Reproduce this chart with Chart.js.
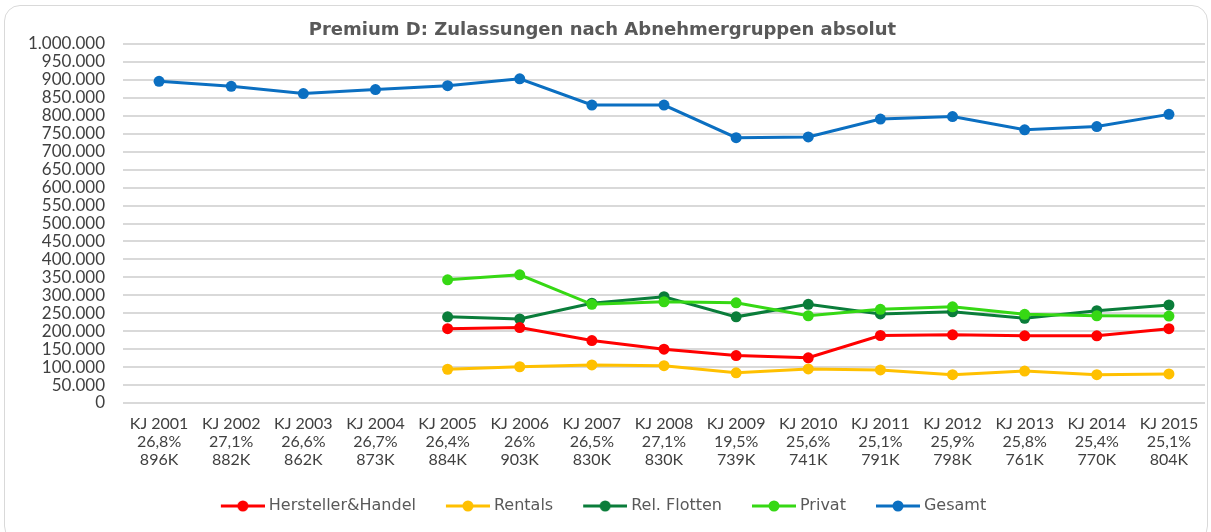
<head>
  <meta charset="utf-8" />
  <title>Premium D</title>
  <script src="https://cdn.jsdelivr.net/npm/chart.js"></script>
  <style>
    body { margin: 0; background: #fff; }
    #wrap { position: relative; width: 1211px; height: 532px; }
    #frame { position: absolute; left: 4px; top: 5px; width: 1202px; height: 535px; border: 1px solid #d9d9d9; border-radius: 16px; pointer-events: none; }
  </style>
</head>

<body>
  <div id="wrap">
    <canvas id="chart"></canvas>
    <div id="frame"></div>
  </div>
</body>

<script>
  const years = ["KJ 2001", "KJ 2002", "KJ 2003", "KJ 2004", "KJ 2005", "KJ 2006", "KJ 2007", "KJ 2008",
    "KJ 2009", "KJ 2010", "KJ 2011", "KJ 2012", "KJ 2013", "KJ 2014", "KJ 2015"];
  const shares = ["26,8%", "27,1%", "26,6%", "26,7%", "26,4%", "26%", "26,5%", "27,1%",
    "19,5%", "25,6%", "25,1%", "25,9%", "25,8%", "25,4%", "25,1%"];
  const totalLabels = ["896K", "882K", "862K", "873K", "884K", "903K", "830K", "830K",
    "739K", "741K", "791K", "798K", "761K", "770K", "804K"];

  const hersteller = [null, null, null, null, 207000, 210000, 174000, 150000, 132000, 126000, 188000, 190000, 187000, 187000, 207000];
  const rentals = [null, null, null, null, 94000, 101000, 106000, 104000, 84000, 95000, 92000, 79000, 89000, 79000, 81000];
  const flotten = [null, null, null, null, 240000, 234000, 278000, 296000, 240000, 275000, 248000, 254000, 236000, 257000, 273000];
  const privat = [null, null, null, null, 343000, 357000, 275000, 282000, 279000, 243000, 261000, 268000, 247000, 243000, 242000];
  const gesamt = [896000, 882000, 862000, 873000, 884000, 903000, 830000, 830000, 739000, 741000, 791000, 798000, 761000, 770000, 804000];

  const fontFamily = "Lato, 'Open Sans', sans-serif";
  const textColor = "#404040";

  // legend marker: short line with a dot, small blank margin on the left
  function legendIcon(color) {
    const c = document.createElement("canvas");
    c.width = 50;
    c.height = 14;
    const ctx = c.getContext("2d");
    ctx.strokeStyle = color;
    ctx.lineWidth = 3;
    ctx.beginPath();
    ctx.moveTo(6, 7);
    ctx.lineTo(50, 7);
    ctx.stroke();
    ctx.fillStyle = color;
    ctx.beginPath();
    ctx.arc(28, 7, 5.5, 0, Math.PI * 2);
    ctx.fill();
    return c;
  }

  function series(label, data, color, order) {
    return {
      label: label,
      data: data,
      borderColor: color,
      backgroundColor: color,
      borderWidth: 3,
      pointRadius: 5.5,
      pointHoverRadius: 5.5,
      pointBorderWidth: 0,
      spanGaps: false,
      order: order,
      icon: legendIcon(color),
    };
  }

  const dotted = (v) => String(v).replace(/\B(?=(\d{3})+(?!\d))/g, ".");

  new Chart(document.getElementById("chart"), {
    type: "line",
    data: {
      labels: years.map((y, i) => [y, shares[i], totalLabels[i]]),
      datasets: [
        series("Hersteller&Handel", hersteller, "#ff0000", 1),
        series("Rentals", rentals, "#ffc000", 1),
        series("Rel. Flotten", flotten, "#0a7d3a", 1),
        series("Privat", privat, "#36d814", 0),
        series("Gesamt", gesamt, "#0b6fc1", 0),
      ],
    },
    options: {
      responsive: true,
      maintainAspectRatio: false,
      animation: false,
      layout: { padding: { left: 0, right: 6, top: 0, bottom: 8 } },
      plugins: {
        title: {
          display: true,
          text: "Premium D: Zulassungen nach Abnehmergruppen absolut",
          color: "#595959",
          font: { family: "'DejaVu Sans', sans-serif", size: 18, weight: "bold" },
          padding: { top: 19.2, bottom: 3.2 },
        },
        legend: {
          position: "bottom",
          labels: {
            usePointStyle: true,
            pointStyleWidth: 42,
            color: "#595959",
            font: { family: "'DejaVu Sans', sans-serif", size: 16 },
            padding: 28,
            sort: (a, b) => a.datasetIndex - b.datasetIndex,
            generateLabels: (chart) =>
              Chart.defaults.plugins.legend.labels.generateLabels(chart).map((l) => ({
                ...l,
                pointStyle: chart.data.datasets[l.datasetIndex].icon,
              })),
          },
        },
        tooltip: { enabled: false },
      },
      scales: {
        x: {
          offset: true,
          grid: { display: false, drawTicks: false },
          border: { display: false },
          ticks: {
            color: textColor,
            font: { family: fontFamily, size: 16, lineHeight: 1.125 },
            padding: 12,
            maxRotation: 0,
            autoSkip: false,
          },
          afterFit: (scale) => { scale.height = 67; },
        },
        y: {
          min: 0,
          max: 1000000,
          grid: { color: "#d9d9d9", lineWidth: 2, drawTicks: false },
          border: { display: false },
          ticks: {
            stepSize: 50000,
            autoSkip: false,
            color: textColor,
            font: { family: fontFamily, size: 17 },
            padding: 18,
            callback: (v) => dotted(v),
          },
          afterFit: (scale) => { scale.width = 123; },
        },
      },
    },
  });
</script>
